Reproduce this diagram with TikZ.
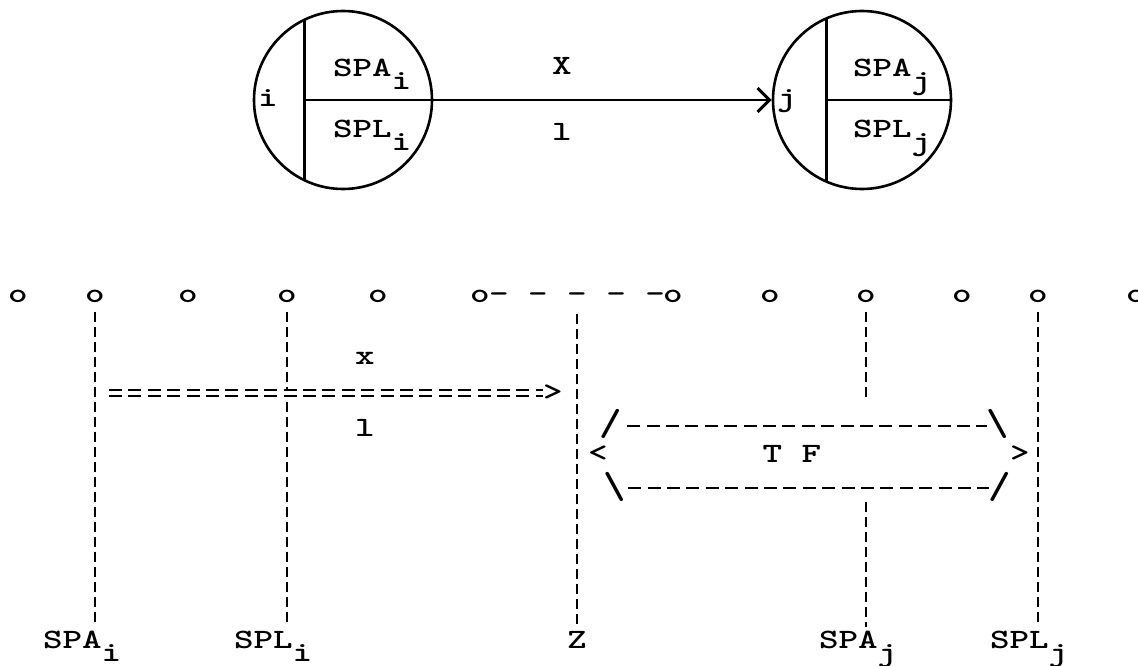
\documentclass[tikz,border=0pt]{standalone}
\usepackage{fontspec}
\usetikzlibrary{arrows.meta}
\newcommand\twx[1]{\scalebox{1.33}[1]{\fontsize{28}{32}\selectfont\ttfamily\bfseries #1}}
\newcommand\tall[1]{\scalebox{1.15}[1.35]{#1}}
\newcommand\dnx[1]{\raisebox{-13pt}{#1}}
\begin{document}
\begin{tikzpicture}[x=1pt,y=-1pt,
  circ/.style={draw, circle, minimum size=178pt, inner sep=0, line width=2.6pt},
  txt/.style={inner sep=0, outer sep=0},
  sline/.style={line width=2.6pt},
  vd/.style={line width=2.2pt, dash pattern=on 10pt off 5pt},
  hd/.style={line width=2.2pt, dash pattern=on 13pt off 6.4pt},
  eq/.style={line width=2pt, double distance=3.5pt, dash pattern=on 13pt off 6.4pt},
]
\useasboundingbox (0,0) rectangle (1138,666);

% ---- top: two event circles ----
\node[circ] (ci) at (343,100) {};
\node[circ] (cj) at (862,100) {};
\draw[line width=3pt] (ci.center) ++(-39,-80) -- ++(0,160);
\draw[sline] (ci.center) ++(-39,0) -- (ci.east);
\draw[line width=3pt] (cj.center) ++(-36,-81) -- ++(0,162);
\draw[sline] (cj.center) ++(-36,0) -- (cj.east);
\draw[sline, -{Straight Barb[length=12pt,width=24pt,line width=3pt]}] (ci.east) -- (cj.west);

\node[txt,anchor=base] (ni) at (268,107) {\twx{i}};
\node[txt,anchor=base] (nj) at (787,107) {\twx{j}};
\node[txt,anchor=base west] (spai) at (333,77) {\twx{SPA\dnx{i}}};
\node[txt,anchor=base west] (spli) at (333,138) {\twx{SPL\dnx{i}}};
\node[txt,anchor=base west] (spaj) at (853,77) {\twx{SPA\dnx{j}}};
\node[txt,anchor=base west] (splj) at (853,138) {\twx{SPL\dnx{j}}};
\node[txt,anchor=base] (lX) at (562,75) {\twx{X}};
\node[txt,anchor=base] (lL) at (562,141) {\twx{l}};

% ---- row of o's ----
\foreach \n/\x in {1/18,2/95,3/188,4/287,5/378,6/480,7/673,8/770,9/866,10/962,11/1038,12/1136}
  \node[txt,anchor=base] (o\n) at (\x,302) {\twx{o}};
\node[txt,anchor=base] (dsh) at (577,302) {\twx{-\ -\ -\ -\ -}};

% ---- bottom labels ----
\node[txt,anchor=base west] (bspai) at (43,648) {\twx{SPA\dnx{i}}};
\node[txt,anchor=base west] (bspli) at (234,648) {\twx{SPL\dnx{i}}};
\node[txt,anchor=base] (bz) at (577,648) {\twx{Z}};
\node[txt,anchor=base west] (bspaj) at (819,648) {\twx{SPA\dnx{j}}};
\node[txt,anchor=base west] (bsplj) at (990,648) {\twx{SPL\dnx{j}}};

% ---- vertical dashed lines ----
\draw[vd, shorten <=10pt, shorten >=4pt] (o2.south) -- (o2.south |- bspai.north);
\draw[vd, shorten <=10pt, shorten >=4pt] (o4.south) -- (o4.south |- bspli.north);
\draw[vd, shorten <=12pt, shorten >=4pt] (dsh.south) -- (bz.north);
\coordinate (aj1) at (866,402);
\coordinate (aj2) at (866,502);
\draw[vd, shorten <=10pt] (o9.south) -- (aj1);
\draw[vd, shorten >=4pt] (aj2) -- (aj2 |- bspaj.north);
\draw[vd, shorten <=10pt, shorten >=4pt] (o11.south) -- (o11.south |- bsplj.north);

% ---- activity x ----
\node[txt] (lx) at (365,358) {\twx{x}};
\node[txt] (ll) at (365,428) {\twx{l}};
\coordinate (eqs) at (109,393);
\node[txt] (gt) at (553,393) {\twx{>}};
\draw[eq] (eqs) -- (gt.west);

% ---- float hexagon ----
\node[txt] (htl) at (611,424) {\twx{\tall{/}}};
\node[txt] (htr) at (998,424) {\twx{\tall{\textbackslash}}};
\node[txt] (hl) at (598,454) {\twx{<}};
\node[txt] (htf) at (792,454) {\twx{T F}};
\node[txt] (hr) at (1020,454) {\twx{>}};
\node[txt] (hbl) at (615,487) {\twx{\tall{\textbackslash}}};
\node[txt] (hbr) at (1000,487) {\twx{\tall{/}}};
\draw[hd, shorten <=5pt] ([yshift=-2pt]htl.east) -- ([yshift=-2pt]htr.west);
\draw[hd, shorten <=2pt] ([yshift=-1pt]hbl.east) -- ([yshift=-1pt]hbr.west);
\end{tikzpicture}
\end{document}
